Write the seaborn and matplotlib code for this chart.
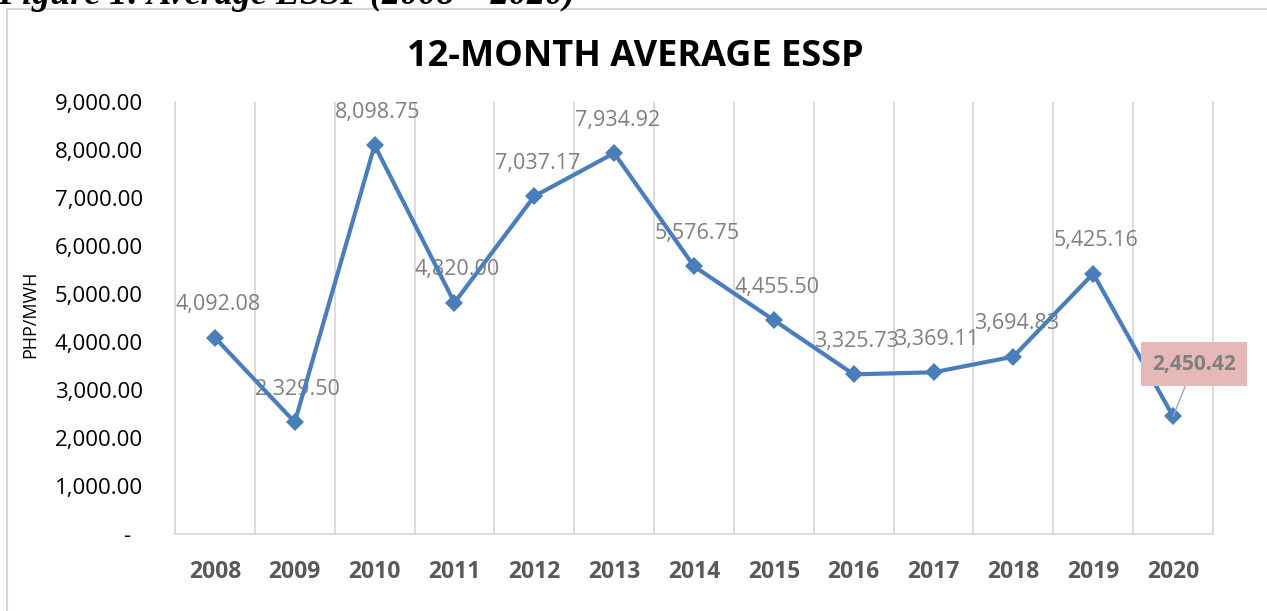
import matplotlib
matplotlib.use("Agg")
import numpy as np
import pandas as pd
import matplotlib.pyplot as plt
import seaborn as sns
from matplotlib.ticker import FuncFormatter, FixedLocator
from matplotlib.patches import Rectangle
from matplotlib.transforms import ScaledTranslation

# ---- data ----
years = ["2008", "2009", "2010", "2011", "2012", "2013", "2014",
         "2015", "2016", "2017", "2018", "2019", "2020"]
essp = [4092.08, 2329.50, 8098.75, 4820.00, 7037.17, 7934.92, 5576.75,
        4455.50, 3325.73, 3369.11, 3694.83, 5425.16, 2450.42]
yticks = [0, 1000, 2000, 3000, 4000, 5000, 6000, 7000, 8000, 9000]
title = "12-MONTH AVERAGE ESSP"
caption = "Figure 1: Average ESSP (2008 \u2013 2020)"
ylabel = "PHP/MWH"
highlight_year = "2020"

sns.set_theme(style="white")
plt.rcParams['font.family'] = ['Open Sans', 'DejaVu Sans']

W, H = 1267, 611
fig = plt.figure(figsize=(W / 100, H / 100), dpi=100)
fig.patch.set_facecolor("white")

ax = fig.add_axes([175 / W, 1 - 534 / H, (1213 - 175) / W, (534 - 102) / H])

df = pd.DataFrame({"year": years, "essp": essp})
sns.lineplot(data=df, x="year", y="essp", ax=ax, color="#4a7ebb", lw=3.0,
             marker="D", markersize=9.5, markeredgewidth=0, sort=False,
             zorder=3)

ax.set_xlim(-0.5, len(years) - 0.5)
ax.set_ylim(0, 9000)
ax.set_yticks(yticks)
ax.yaxis.set_major_formatter(FuncFormatter(lambda v, _: "-" if v == 0 else f"{v:,.2f}"))
ax.set_xlabel("")
ax.set_ylabel("")

# vertical gridlines at category boundaries
ax.xaxis.set_minor_locator(FixedLocator(np.arange(-0.5, len(years), 1.0)))
ax.grid(False)
ax.grid(True, which="minor", axis="x", color="#d9d9d9", lw=1.3)
ax.tick_params(axis="x", which="minor", length=0)

for s in ["left", "right", "bottom"]:
    ax.spines[s].set_color("#d9d9d9")
    ax.spines[s].set_linewidth(1.3)
ax.spines["top"].set_visible(False)

ax.tick_params(axis="x", which="major", length=0, pad=19, labelsize=16.5,
               labelcolor="#595959")
for lab in ax.get_xticklabels():
    lab.set_fontweight("bold")
ax.tick_params(axis="y", length=0, pad=23, labelsize=16, labelcolor="#000000")

# shift the "-" zero label left like the accounting format
t0 = ax.yaxis.get_major_ticks()[0]
t0.label1.set_transform(t0.label1.get_transform() +
                        ScaledTranslation(-13 / 100, 0, fig.dpi_scale_trans))

# data labels
for i, (yr, v) in enumerate(zip(years, essp)):
    if yr == highlight_year:
        ax.annotate(f"{v:,.2f}", (i, v), xytext=(21, 52),
                    textcoords="offset pixels", ha="center", va="center",
                    fontsize=15, fontweight="bold", color="#7f7f7f",
                    bbox=dict(boxstyle="square,pad=0.55", fc="#e6b9b8", ec="none"),
                    arrowprops=dict(arrowstyle="-", color="#a6a6a6", lw=1.0,
                                    shrinkA=0, shrinkB=0),
                    zorder=4)
    else:
        ax.annotate(f"{v:,.2f}", (i, v), xytext=(3, 33),
                    textcoords="offset pixels", ha="center", va="center",
                    fontsize=15.5, color="#7f7f7f", zorder=2.5)

# titles
fig.text(635 / W, 1 - 57 / H, title, fontsize=26, fontweight="bold",
         ha="center", va="center", color="#000000")
fig.text(30 / W, 1 - 314 / H, ylabel, rotation=90, ha="center", va="center",
         fontsize=13, color="#000000")
fig.text(-2 / W, 1 - 4 / H, caption, family=["Liberation Serif", "DejaVu Serif"],
         fontweight="bold", fontstyle="italic", fontsize=26,
         ha="left", va="baseline", color="#000000")

# chart frame
fig.patches.append(Rectangle((7 / W, -0.05), 1.1, 1 - 9 / H + 0.05,
                             transform=fig.transFigure, fill=False,
                             edgecolor="#d9d9d9", lw=1.5))

fig.savefig("out.png", dpi=100)
